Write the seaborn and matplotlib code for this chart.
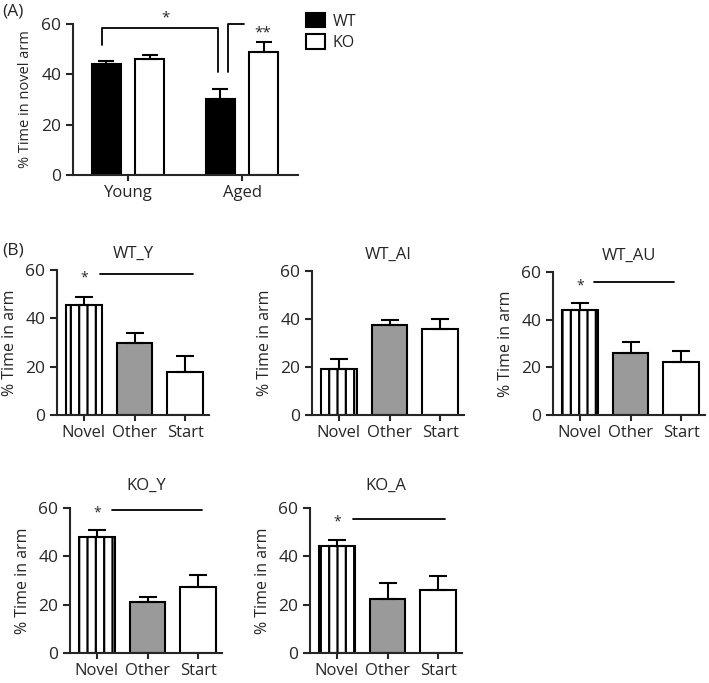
import numpy as np
import pandas as pd
import matplotlib
matplotlib.use("Agg")
import matplotlib.pyplot as plt
from matplotlib.patches import Patch
import seaborn as sns

# (A) % time in novel arm, mean and SEM
ages = ["Young", "Aged"]
genotypes = ["WT", "KO"]
novel_mean = {"WT": [44.0, 30.2], "KO": [46.0, 48.7]}
novel_sem = {"WT": [1.3, 3.8], "KO": [1.7, 4.3]}

# (B) % time in each arm, mean and SEM
arms = ["Novel", "Other", "Start"]
groups = ["WT_Y", "WT_AI", "WT_AU", "KO_Y", "KO_A"]
arm_mean = {
    "WT_Y": [45.5, 29.7, 17.9],
    "WT_AI": [19.3, 37.7, 35.9],
    "WT_AU": [44.0, 26.0, 22.2],
    "KO_Y": [48.2, 20.9, 27.4],
    "KO_A": [44.3, 22.2, 26.0],
}
arm_sem = {
    "WT_Y": [3.4, 4.4, 6.5],
    "WT_AI": [3.9, 1.9, 4.1],
    "WT_AU": [2.8, 4.8, 4.5],
    "KO_Y": [2.8, 2.1, 4.9],
    "KO_A": [2.5, 6.9, 6.0],
}

sns.set_style("ticks")
plt.rcParams["font.family"] = ["Open Sans", "DejaVu Sans"]
plt.rcParams.update({
    "axes.linewidth": 1.5,
    "xtick.major.width": 1.5,
    "ytick.major.width": 1.5,
    "xtick.major.size": 4,
    "ytick.major.size": 5,
    "xtick.labelsize": 12,
    "ytick.labelsize": 12.5,
    "hatch.linewidth": 1.6,
    "hatch.color": "black",
})

W, H = 709, 683
fig = plt.figure(figsize=(W / 100, H / 100), dpi=100)


def add_ax(left, right, top, bottom):
    # axes placed by pixel edges of the reference
    return fig.add_axes([left / W, 1 - bottom / H, (right - left) / W, (bottom - top) / H])


# ---- panel A
axA = add_ax(73, 298, 24, 175)
dfA = pd.DataFrame(
    [(a, g, novel_mean[g][i]) for g in genotypes for i, a in enumerate(ages)],
    columns=["age", "genotype", "pct"],
)
sns.barplot(data=dfA, x="age", y="pct", hue="genotype", order=ages, hue_order=genotypes,
            palette={"WT": "black", "KO": "white"}, edgecolor="black", linewidth=1.5,
            width=0.76, gap=0.32, errorbar=None, legend=False, ax=axA)
for i, g in enumerate(genotypes):
    x = np.arange(len(ages)) + (i - 0.5) * 0.38
    axA.errorbar(x, novel_mean[g], yerr=[np.zeros(len(ages)), novel_sem[g]], fmt="none",
                 ecolor="black", elinewidth=1.5, capsize=5.5, capthick=1.5)
axA.set_ylim(0, 60)
axA.set_yticks([0, 20, 40, 60])
axA.set_xlim(-0.482, 1.491)
axA.set_xlabel("")
axA.set_ylabel("% Time in novel arm", fontsize=10.5, labelpad=6)
sns.despine(ax=axA)

# significance brackets
axA.plot([-0.228, -0.228, 0.789, 0.789], [51.6, 58.4, 58.4, 40.9], color="black", lw=1.3, clip_on=False)
axA.plot([0.877, 0.877, 1.018], [40.9, 60, 60], color="black", lw=1.3, clip_on=False)
axA.text(0.333, 62.2, "*", ha="center", va="center", fontsize=11, clip_on=False)
axA.text(1.184, 56.5, "**", ha="center", va="center", fontsize=11, clip_on=False)

handles = [Patch(facecolor="black", edgecolor="black", lw=1.5, label="WT"),
           Patch(facecolor="white", edgecolor="black", lw=1.5, label="KO")]
fig.legend(handles=handles, loc="upper left", bbox_to_anchor=(306 / W, 1 - 13 / H), frameon=False,
           fontsize=11.5, handlelength=1.2, handleheight=1.0, handletextpad=0.45,
           labelspacing=0.3, borderaxespad=0, borderpad=0)

fig.text(2 / W, 1 - 11 / H, "(A)", va="center", ha="left", fontsize=12.5)
fig.text(2 / W, 1 - 250 / H, "(B)", va="center", ha="left", fontsize=12.5)

# ---- panel B
arm_colors = ["white", "#9a9a9a", "white"]
ax_px = {
    "WT_Y": (57, 209, 270, 415),
    "WT_AI": (312, 464, 271, 415),
    "WT_AU": (553, 705, 272, 415),
    "KO_Y": (70, 222, 508, 653),
    "KO_A": (310, 462, 508, 653),
}
# (x from, x to, y) of the significance line, star sits over Novel
sig = {"WT_Y": (0.32, 2.16, 58.2), "WT_AU": (0.27, 1.86, 55.8),
       "KO_Y": (0.29, 2.07, 59.3), "KO_A": (0.32, 2.13, 55.6)}

for name in groups:
    ax = add_ax(*ax_px[name])
    sns.barplot(x=arms, y=arm_mean[name], hue=arms, palette=arm_colors, edgecolor="black",
                linewidth=1.5, width=0.7, errorbar=None, legend=False, ax=ax)
    novel_bar = min(ax.patches, key=lambda p: abs(p.get_x() + p.get_width() / 2))
    novel_bar.set_hatch("||")
    ax.errorbar(np.arange(len(arms)), arm_mean[name], yerr=[np.zeros(len(arms)), arm_sem[name]],
                fmt="none", ecolor="black", elinewidth=1.5, capsize=6.5, capthick=1.5)
    ax.set_ylim(0, 60)
    ax.set_yticks([0, 20, 40, 60])
    ax.set_xlim(-0.53, 2.47)
    ax.set_ylabel("% Time in arm", fontsize=11.5, labelpad=5)
    ax.set_title(name, fontsize=12, pad=9 if name.startswith("WT") else 13)
    sns.despine(ax=ax)
    if name in sig:
        x0, x1, y = sig[name]
        ax.plot([x0, x1], [y, y], color="black", lw=1.3, clip_on=False)
        ax.text(0, y - 1.5, "*", ha="center", va="center", fontsize=10, clip_on=False)

fig.savefig("out.png", dpi=100)
